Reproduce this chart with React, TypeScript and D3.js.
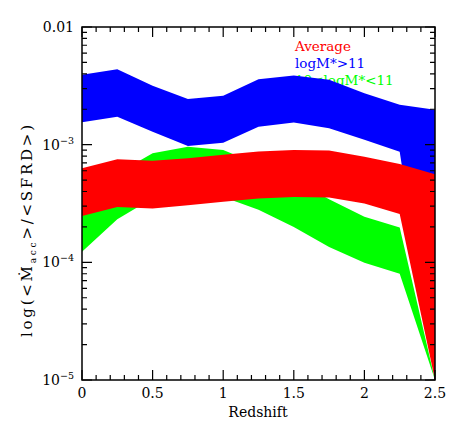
import * as d3 from "d3";

// redshift grid
const redshift = [0, 0.25, 0.5, 0.75, 1.0, 1.25, 1.5, 1.75, 2.0, 2.25, 2.5];

// logM* > 11 (blue)
const massiveHi = [3.93e-3, 4.38e-3, 3.16e-3, 2.44e-3, 2.61e-3, 3.59e-3, 3.88e-3, 3.56e-3, 2.74e-3, 2.18e-3, 1.98e-3];
const massiveLo = [1.55e-3, 1.73e-3, 1.29e-3, 0.975e-3, 1.04e-3, 1.42e-3, 1.54e-3, 1.38e-3, 1.1e-3, 0.87e-3, 1e-5];

// 10 < logM* < 11 (green)
const midHi = [2.45e-4, 5.7e-4, 8.45e-4, 9.6e-4, 9.0e-4, 6.8e-4, 5.0e-4, 3.43e-4, 2.44e-4, 1.98e-4, 1e-5];
const midLo = [1.23e-4, 2.32e-4, 3.5e-4, 3.8e-4, 3.6e-4, 2.8e-4, 2.0e-4, 1.35e-4, 9.9e-5, 8.0e-5, 1e-5];

// average (red)
const avgHi = [6.3e-4, 7.5e-4, 7.3e-4, 7.65e-4, 8.2e-4, 8.75e-4, 9.0e-4, 8.9e-4, 7.9e-4, 6.85e-4, 5.6e-4];
const avgLo = [2.48e-4, 2.96e-4, 2.87e-4, 3.06e-4, 3.27e-4, 3.49e-4, 3.6e-4, 3.56e-4, 3.17e-4, 2.57e-4, 1e-5];

const legendLabels = ["Average", "logM*>11", "10<logM*<11"];
const yTickLabels = [
  { v: 1e-2, base: "0.01", exp: "" },
  { v: 1e-3, base: "10", exp: "\u22123" },
  { v: 1e-4, base: "10", exp: "\u22124" },
  { v: 1e-5, base: "10", exp: "\u22125" },
];

const W = 463;
const H = 436;
const left = 82, right = 435, top = 27, bottom = 380;
const font = "'DejaVu Serif', serif";

export default function App() {
  const x = d3.scaleLinear().domain([0, 2.5]).range([left, right]);
  const y = d3.scaleLog().domain([1e-5, 1e-2]).range([bottom, top]);

  const band = (hi: number[], lo: number[]) =>
    d3.area<number>()
      .x((_, i) => x(redshift[i]))
      .y0((_, i) => y(lo[i]))
      .y1((d) => y(d))(hi) as string;

  const xMajor = x.ticks(5);
  const xMinor = d3.range(0, 26).map((i) => i / 10);
  const yAll = d3.range(-5, -2).flatMap((e) => d3.range(1, 10).map((m) => m * Math.pow(10, e)));
  yAll.push(1e-2);

  // ticks on all four sides, one path
  let tickPath = "";
  xMinor.forEach((v, i) => {
    const len = i % 5 === 0 ? 10 : 5;
    const px = x(v);
    tickPath += `M${px},${bottom}V${bottom - len}M${px},${top}V${top + len}`;
  });
  yAll.forEach((v, i) => {
    const len = i % 9 === 0 ? 10 : 5;
    const py = y(v);
    tickPath += `M${left},${py}H${left + len}M${right},${py}H${right - len}`;
  });

  return (
    <svg width={W} height={H} style={{ position: "absolute", left: 0, top: 0, background: "#fff" }}>
      {/* legend text (drawn first, blue band overlaps green label) */}
      <g fontFamily={font} fontSize={13.5}>
        <text x={295} y={50.5} fill="#ff0000">{legendLabels[0]}</text>
        <text x={295} y={68} fill="#0000ff">{legendLabels[1]}</text>
        <text x={295} y={85} fill="#00ff00">{legendLabels[2]}</text>
      </g>

      <path d={band(midHi, midLo)} fill="#00ff00" />
      <path d={band(massiveHi, massiveLo)} fill="#0000ff" />
      <path d={band(avgHi, avgLo)} fill="#ff0000" />

      {/* frame */}
      <rect x={left} y={top} width={right - left} height={bottom - top} fill="none" stroke="#000" strokeWidth={1.5} />
      <path d={tickPath} fill="none" stroke="#000" strokeWidth={1.2} />

      {/* x tick labels */}
      <g fontFamily={font} fontSize={14} textAnchor="middle" fill="#000">
        {xMajor.map((v) => (
          <text key={"xl" + v} x={x(v)} y={398}>{d3.format("~g")(v)}</text>
        ))}
      </g>

      {/* y tick labels */}
      <g fontFamily={font} fontSize={14} textAnchor="end" fill="#000">
        {yTickLabels.map((t) => (
          <text key={"yl" + t.v} x={74} y={y(t.v) + 5}>
            {t.base}
            {t.exp && (
              <tspan fontSize={9.5} dy={-6}>{t.exp}</tspan>
            )}
          </text>
        ))}
      </g>

      {/* axis titles */}
      <text x={258} y={417} fontFamily={font} fontSize={14} textAnchor="middle">Redshift</text>
      <text
        transform={`translate(32,231) rotate(-90)`}
        fontFamily={font}
        fontSize={15}
        textAnchor="middle"
        textLength={212}
        lengthAdjust="spacing"
      >
        log(&lt;{"\u1E40"}<tspan fontSize={9} dy={4}>acc</tspan><tspan dy={-4}>&gt;/&lt;SFRD&gt;)</tspan>
      </text>
    </svg>
  );
}
